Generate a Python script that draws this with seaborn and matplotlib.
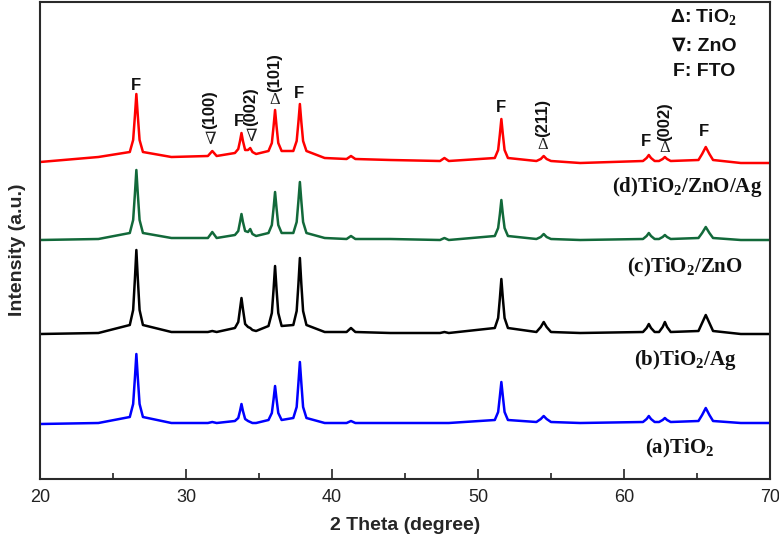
import matplotlib
matplotlib.use("Agg")
import matplotlib.pyplot as plt
import seaborn as sns
import pandas as pd

# 2 theta grid (degree), points read on the baselines and along each peak
two_theta = [20, 24,
             26.15, 26.38, 26.5, 26.6, 26.7, 26.82, 27.05,
             29,
             31.5, 31.8, 32.1,
             33.35, 33.58, 33.7, 33.8, 33.9, 34.05, 34.25, 34.4, 34.55, 34.8,
             35.65, 35.88, 36.0, 36.1, 36.2, 36.32, 36.55,
             37.35, 37.58, 37.7, 37.8, 37.9, 38.02, 38.25,
             39.5,
             41.0, 41.3, 41.6,
             44,
             47.4, 47.7, 48.0,
             51.15, 51.38, 51.5, 51.6, 51.7, 51.82, 52.05,
             54.0, 54.3, 54.5, 54.7, 55.0,
             57,
             61.3, 61.55, 61.7, 61.85, 62.1,
             62.4, 62.65, 62.8, 62.95, 63.2,
             65.1, 65.35, 65.6, 65.85, 66.1,
             68, 70]

# intensities (a.u.) above each pattern's own baseline
int_a = [0, 1,
         7, 20, 46, 70, 46, 20, 7,
         1,
         1, 2, 1,
         3, 6, 13, 20, 13, 5, 3, 2, 1, 1,
         4, 11, 25, 38, 25, 11, 4,
         6, 17, 41, 62, 41, 17, 6,
         1,
         1, 3, 1,
         1,
         1, 1, 1,
         4, 12, 28, 42, 28, 12, 4,
         2, 5, 8, 5, 2,
         1,
         2, 5, 8, 5, 2,
         2, 4, 6, 4, 2,
         3, 9, 16, 9, 3,
         1, 1]
int_b = [0, 1,
         9, 24, 55, 84, 55, 24, 9,
         2,
         2, 3, 2,
         6, 12, 25, 36, 25, 10, 7, 6, 4, 3,
         8, 21, 45, 68, 45, 21, 8,
         9, 23, 50, 76, 50, 23, 9,
         2,
         2, 6, 2,
         1,
         1, 2, 1,
         6, 16, 36, 55, 36, 16, 6,
         2, 7, 12, 7, 2,
         1,
         2, 6, 10, 6, 2,
         2, 7, 12, 7, 2,
         3, 11, 19, 11, 3,
         0, 0]
int_c = [0, 1,
         7, 20, 46, 70, 46, 20, 7,
         2,
         2, 8, 2,
         5, 9, 18, 26, 18, 9, 8, 11, 6, 4,
         7, 15, 32, 48, 32, 15, 7,
         7, 18, 39, 58, 39, 18, 7,
         2,
         1, 4, 1,
         1,
         0, 2, 0,
         4, 12, 26, 40, 26, 12, 4,
         1, 3, 6, 3, 1,
         0,
         1, 4, 7, 4, 1,
         1, 3, 5, 3, 1,
         2, 7, 13, 7, 2,
         0, 0]
int_d = [0, 5,
         10, 22, 46, 68, 46, 22, 10,
         5,
         6, 11, 6,
         9, 13, 21, 29, 21, 12, 12, 14, 10, 8,
         11, 19, 36, 52, 36, 19, 11,
         11, 21, 40, 58, 40, 21, 11,
         4,
         3, 6, 3,
         2,
         1, 4, 1,
         4, 12, 28, 43, 28, 12, 4,
         1, 3, 6, 3, 1,
         -1,
         1, 4, 7, 4, 1,
         1, 3, 5, 3, 1,
         2, 8, 15, 8, 2,
         -1, -1]

samples = ["a", "b", "c", "d"]
offsets = [55, 145, 239, 317]
colors = ["#0000ff", "#000000", "#12693a", "#ff0000"]

rows = []
for s, vals, off in zip(samples, [int_a, int_b, int_c, int_d], offsets):
    assert len(vals) == len(two_theta)
    for t, v in zip(two_theta, vals):
        rows.append({"two_theta": t, "intensity": v + off, "sample": s})
df = pd.DataFrame(rows)

sns.set_theme(style="white")
plt.rcParams["font.family"] = ["Liberation Sans", "DejaVu Sans"]
plt.rcParams["mathtext.fontset"] = "custom"
plt.rcParams["mathtext.bf"] = "Liberation Serif:bold"
plt.rcParams["mathtext.rm"] = "Liberation Serif"

fig = plt.figure(figsize=(7.79, 5.40), dpi=100)
ax = fig.add_axes([40 / 779, 1 - 479 / 540, 730 / 779, 477 / 540])

sns.lineplot(data=df, x="two_theta", y="intensity", hue="sample",
             palette=dict(zip(samples, colors)), estimator=None,
             legend=False, linewidth=1.8, ax=ax)

ax.set_xlim(20, 70)
ax.set_ylim(0, 477)
ax.set_yticks([])
ax.set_xticks([20, 30, 40, 50, 60, 70])
ax.set_xticks([25, 35, 45, 55, 65], minor=True)
ax.tick_params(axis="x", which="major", direction="in", length=7, width=1.2,
               labelsize=13, pad=7, bottom=True, colors="#222222")
ax.tick_params(axis="x", which="minor", direction="in", length=4, width=1.2,
               bottom=True, colors="#222222")
for sp in ax.spines.values():
    sp.set_color("#2a2a2a")
    sp.set_linewidth(1.5)

ax.set_xlabel("2 Theta (degree)", fontsize=14, fontweight="bold")
ax.set_ylabel("Intensity (a.u.)", fontsize=14, fontweight="bold")
ax.xaxis.set_label_coords(0.5, -46 / 477)
ax.xaxis.label.set_va("center")
ax.yaxis.set_label_coords(-22 / 730, 229 / 477)
ax.yaxis.label.set_va("center")

# peak markers on pattern (d)
sym_font = dict(family=["Liberation Serif", "DejaVu Serif"], fontsize=12,
                ha="center", va="center", color="#222222")
bold_font = dict(fontsize=12, fontweight="bold", ha="center", va="center",
                 color="#111111")
for t, y in [(26.6, 393), (33.6, 357), (37.75, 386), (51.55, 371),
             (61.5, 337), (65.45, 347)]:
    ax.text(t, y, "F", **bold_font)
for t, y in [(31.65, 339), (34.45, 342)]:
    ax.text(t, y, "\u2207", **sym_font)
for t, y in [(36.1, 379), (54.45, 334), (62.8, 331)]:
    ax.text(t, y, "\u0394", **sym_font)
for t, y, lab in [(31.65, 369, "(100)"), (34.45, 372, "(002)"),
                  (36.1, 406, "(101)"), (54.45, 361, "(211)"),
                  (62.8, 357, "(002)")]:
    ax.text(t, y, lab, rotation=90, **bold_font)

# sample labels
lab_font = dict(family=["Liberation Serif", "DejaVu Serif"], fontsize=15,
                fontweight="bold", ha="center", va="center", color="#111111")
ax.text(64.35, 292, r"(d)TiO$_\mathbf{2}$/ZnO/Ag", **lab_font)
ax.text(64.15, 212, r"(c)TiO$_\mathbf{2}$/ZnO", **lab_font)
ax.text(64.2, 119, r"(b)TiO$_\mathbf{2}$/Ag", **lab_font)
ax.text(63.8, 31, r"(a)TiO$_\mathbf{2}$", **lab_font)

# key
key_font = dict(fontsize=14, fontweight="bold", ha="center", va="center",
                color="#111111")
ax.text(65.45, 461, "\u0394: TiO$_\\mathbf{2}$", **key_font)
ax.text(65.5, 433, "\u2207: ZnO", **key_font)
ax.text(65.5, 407, "F: FTO", **key_font)

fig.savefig("out.png", dpi=100)
